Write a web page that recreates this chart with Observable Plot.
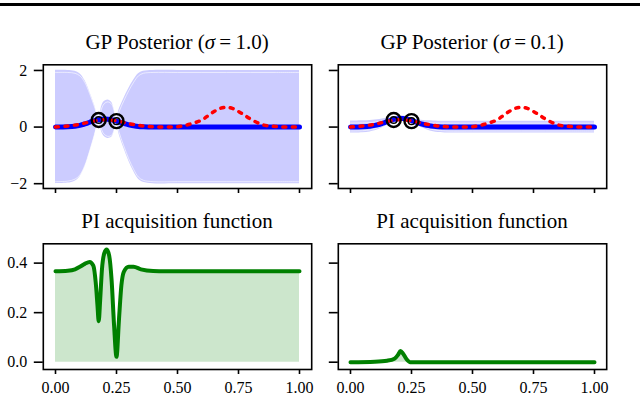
<!DOCTYPE html>
<html>
<head>
<meta charset="utf-8">
<script src="https://cdn.jsdelivr.net/npm/d3@7"></script>
<script src="https://cdn.jsdelivr.net/npm/@observablehq/plot@0.6"></script>
<style>
  html, body { margin: 0; padding: 0; background: #fff; }
  #wrap { position: relative; width: 640px; height: 398px; overflow: hidden; background: #fff;
          font-family: "Liberation Serif", "DejaVu Serif", serif; color: #000; }
  .panel { position: absolute; }
  .title { position: absolute; width: 320px; text-align: center; font-size: 21px; line-height: 21px; white-space: nowrap; }
  .rule { position: absolute; left: 0; top: 3px; width: 640px; height: 3px; background: #000; }
</style>
</head>
<body>
<div id="wrap">
  <div class="rule"></div>
</div>
<script>
// ---------- data ----------
const xTicks = [0, 0.25, 0.5, 0.75, 1.0];
const yTicksPost = [-2, 0, 2];
const yTicksPI = [0.0, 0.2, 0.4];

const titles = ["GP Posterior (σ = 1.0)", "GP Posterior (σ = 0.1)", "PI acquisition function", "PI acquisition function"];

// shared x grid for posterior mean / confidence band
const postX = [0.00, 0.05, 0.08, 0.10, 0.12, 0.14, 0.16, 0.177, 0.19, 0.20, 0.215, 0.23, 0.24, 0.25, 0.26, 0.28, 0.30, 0.32, 0.34, 0.36, 0.40, 0.50, 0.60, 0.70, 0.80, 0.90, 1.00];

// sigma = 1.0 panel
const meanHi  = [0, 0.01, 0.03, 0.06, 0.11, 0.17, 0.23, 0.26, 0.28, 0.285, 0.28, 0.26, 0.235, 0.21, 0.18, 0.13, 0.08, 0.045, 0.02, 0.01, 0, 0, 0, 0, 0, 0, 0];
const upperHi = [2.0, 2.0, 1.97, 1.88, 1.65, 1.25, 0.78, 0.32, 0.75, 0.9, 0.96, 0.88, 0.65, 0.27, 0.6, 1.0, 1.35, 1.65, 1.88, 1.97, 2.0, 2.0, 2.0, 2.0, 2.0, 2.0, 2.0];
const lowerHi = [-2.0, -1.98, -1.91, -1.76, -1.43, -0.91, -0.32, 0.20, -0.19, -0.33, -0.40, -0.36, -0.18, 0.15, -0.24, -0.74, -1.19, -1.56, -1.84, -1.95, -2.0, -2.0, -2.0, -2.0, -2.0, -2.0, -2.0];

// sigma = 0.1 panel
const meanLo  = [0, 0.01, 0.03, 0.06, 0.10, 0.16, 0.22, 0.27, 0.29, 0.30, 0.30, 0.28, 0.26, 0.23, 0.20, 0.14, 0.09, 0.05, 0.025, 0.01, 0, 0, 0, 0, 0, 0, 0];
const upperLo = [0.21, 0.22, 0.23, 0.25, 0.27, 0.30, 0.32, 0.34, 0.37, 0.39, 0.395, 0.37, 0.34, 0.30, 0.28, 0.25, 0.23, 0.22, 0.215, 0.21, 0.21, 0.21, 0.21, 0.21, 0.21, 0.21, 0.21];
const lowerLo = [-0.21, -0.20, -0.17, -0.13, -0.07, 0.02, 0.12, 0.20, 0.21, 0.21, 0.205, 0.19, 0.18, 0.16, 0.12, 0.03, -0.05, -0.12, -0.165, -0.19, -0.21, -0.21, -0.21, -0.21, -0.21, -0.21, -0.21];

// true objective (red dotted)
const truthX = [0, 0.05, 0.1, 0.15, 0.2, 0.25, 0.3, 0.35, 0.4, 0.45, 0.5, 0.55, 0.6, 0.625, 0.65, 0.675, 0.7, 0.725, 0.75, 0.775, 0.8, 0.85, 0.9, 0.95, 1.0];
const truthY = [0, 0.04, 0.1, 0.2, 0.26, 0.22, 0.12, 0.05, 0.01, 0, 0.01, 0.1, 0.25, 0.4, 0.55, 0.66, 0.70, 0.66, 0.55, 0.42, 0.28, 0.08, 0.02, 0, 0];

// observations
const obsX = [0.177, 0.25];
const obsY = [0.25, 0.21];

// PI acquisition, sigma = 1.0
const piHiX = [0, 0.05, 0.08, 0.1, 0.12, 0.14, 0.155, 0.165, 0.172, 0.177, 0.183, 0.19, 0.2, 0.21, 0.22, 0.23, 0.24, 0.25, 0.26, 0.27, 0.28, 0.3, 0.32, 0.35, 0.4, 0.45, 0.5, 0.75, 1.0];
const piHiY = [0.367, 0.369, 0.375, 0.385, 0.397, 0.405, 0.39, 0.32, 0.23, 0.165, 0.25, 0.37, 0.44, 0.455, 0.43, 0.33, 0.15, 0.022, 0.17, 0.31, 0.365, 0.385, 0.385, 0.375, 0.368, 0.367, 0.367, 0.367, 0.367];

// PI acquisition, sigma = 0.1
const piLoX = [0, 0.1, 0.15, 0.18, 0.195, 0.205, 0.215, 0.23, 0.245, 0.3, 0.5, 1.0];
const piLoY = [0, 0.002, 0.006, 0.014, 0.03, 0.045, 0.035, 0.012, 0, 0, 0, 0];

// ---------- tables ----------
const zip = (xs, cols) => xs.map((x, i) => Object.fromEntries([["x", x], ...Object.entries(cols).map(([k, v]) => [k, v[i]])]));
const postHi = zip(postX, {m: meanHi, lo: lowerHi, hi: upperHi});
const postLo = zip(postX, {m: meanLo, lo: lowerLo, hi: upperLo});
const truth = zip(truthX, {y: truthY});
const obs = zip(obsX, {y: obsY});
const piHi = zip(piHiX, {y: piHiY});
const piLo = zip(piLoX, {y: piLoY});

const FONT = "Liberation Serif";

function panel({left, top, width, height, ml, mr, mt, mb, ydomain, yticks, yfmt, xlabels, marks}) {
  const chart = Plot.plot({
    width, height,
    marginLeft: ml, marginRight: mr, marginTop: mt, marginBottom: mb,
    style: {fontFamily: FONT, fontSize: "16px", background: "transparent", color: "#000", overflow: "visible"},
    x: {domain: [-0.05, 1.05]},
    y: {domain: ydomain},
    marks: [
      ...marks,
      Plot.frame({stroke: "#000", strokeWidth: 1.6}),
      Plot.axisX(xTicks, {tickSize: 5, tickPadding: 7, strokeWidth: 1.6, label: null, fontSize: 16,
        tickFormat: xlabels ? d3.format(".2f") : () => ""}),
      Plot.axisY(yticks, {tickSize: 9, tickPadding: 7, strokeWidth: 1.6, label: null, fontSize: 16,
        tickFormat: yfmt})
    ]
  });
  chart.classList.add("panel");
  chart.style.left = left + "px";
  chart.style.top = top + "px";
  document.getElementById("wrap").appendChild(chart);
}

function postMarks(data) {
  return [
    Plot.areaY(data, {x: "x", y1: "lo", y2: "hi", fill: "#0000ff", fillOpacity: 0.2, curve: "catmull-rom"}),
    Plot.line(data, {x: "x", y: "hi", stroke: "#fff", strokeWidth: 1, strokeOpacity: 0.6, curve: "catmull-rom", dy: 2}),
    Plot.line(data, {x: "x", y: "lo", stroke: "#fff", strokeWidth: 1, strokeOpacity: 0.6, curve: "catmull-rom", dy: -2}),
    Plot.line(data, {x: "x", y: "m", stroke: "#0000ff", strokeWidth: 5, curve: "catmull-rom"}),
    Plot.line(truth, {x: "x", y: "y", stroke: "#ff0000", strokeWidth: 3.5, strokeDasharray: "3,6.5", curve: "catmull-rom"}),
    Plot.dot(obs, {x: "x", y: "y", r: 7, stroke: "#000", strokeWidth: 2.4, fill: "none"}),
    Plot.dot(obs, {x: "x", y: "y", r: 3.3, stroke: "#000", strokeWidth: 1.5, fill: "none"})
  ];
}

function piMarks(data) {
  return [
    Plot.areaY(data, {x: "x", y1: 0, y2: "y", fill: "#008000", fillOpacity: 0.2, curve: "monotone-x"}),
    Plot.line(data, {x: "x", y: "y", stroke: "#008000", strokeWidth: 4, curve: "monotone-x"})
  ];
}

const postDomain = [-2.17, 2.2];
const piDomain = [-0.0295, 0.478];
const fmtInt = d3.format("d");
const fmt1 = d3.format(".1f");

panel({left: 0, top: 50, width: 320, height: 150, ml: 42.8, mr: 8.8, mt: 14.3, mb: 12,
  ydomain: postDomain, yticks: yTicksPost, yfmt: fmtInt, xlabels: false, marks: postMarks(postHi)});
panel({left: 320, top: 50, width: 320, height: 150, ml: 17.8, mr: 33.8, mt: 14.3, mb: 12,
  ydomain: postDomain, yticks: yTicksPost, yfmt: () => "", xlabels: false, marks: postMarks(postLo)});
panel({left: 0, top: 228, width: 320, height: 170, ml: 42.8, mr: 8.8, mt: 15.3, mb: 29,
  ydomain: piDomain, yticks: yTicksPI, yfmt: fmt1, xlabels: true, marks: piMarks(piHi)});
panel({left: 320, top: 228, width: 320, height: 170, ml: 17.8, mr: 33.8, mt: 15.3, mb: 29,
  ydomain: piDomain, yticks: yTicksPI, yfmt: () => "", xlabels: true, marks: piMarks(piLo)});

// titles
const titlePos = [[177, 32], [472, 32], [177, 211], [472, 211]];
titles.forEach((t, i) => {
  const d = document.createElement("div");
  d.className = "title";
  d.style.left = (titlePos[i][0] - 160) + "px";
  d.style.top = titlePos[i][1] + "px";
  if (t.includes("σ")) {
    const [pre, post] = t.split("σ");
    d.append(pre);
    const s = document.createElement("i");
    s.textContent = "σ";
    d.append(s);
    d.append(post.replace(" = ", "\u2009=\u2009"));
  } else {
    d.textContent = t;
  }
  document.getElementById("wrap").appendChild(d);
});
</script>
</body>
</html>
